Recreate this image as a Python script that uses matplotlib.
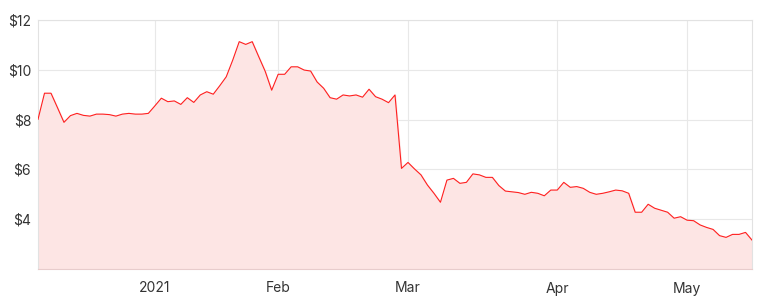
import pandas as pd
import matplotlib
matplotlib.use("Agg")
import matplotlib.pyplot as plt

# ASX trading days, 4 Dec 2020 - 17 May 2021
holidays = ["2020-12-25", "2020-12-28", "2021-01-01", "2021-01-26",
            "2021-04-02", "2021-04-05"]
dates = pd.bdate_range("2020-12-04", "2021-05-17", freq="C", holidays=holidays)

prices = [
    8.01, 9.06, 9.06, 8.48, 7.89, 8.16, 8.25, 8.17, 8.14, 8.22,
    8.22, 8.20, 8.14, 8.22, 8.25, 8.22, 8.22, 8.25, 8.55, 8.86,
    8.72, 8.75, 8.61, 8.88, 8.69, 8.99, 9.12, 9.02, 9.36, 9.72,
    10.39, 11.13, 11.02, 11.13, 10.53, 9.94, 9.18, 9.82, 9.82, 10.12,
    10.12, 9.99, 9.95, 9.51, 9.26, 8.88, 8.82, 8.99, 8.95, 8.99,
    8.90, 9.22, 8.92, 8.82, 8.68, 8.99, 6.04, 6.28, 6.02, 5.78,
    5.37, 5.04, 4.68, 5.57, 5.64, 5.44, 5.48, 5.82, 5.78, 5.68,
    5.68, 5.35, 5.13, 5.10, 5.07, 5.00, 5.08, 5.04, 4.94, 5.17,
    5.17, 5.48, 5.28, 5.31, 5.24, 5.08, 5.00, 5.04, 5.10, 5.17,
    5.14, 5.04, 4.28, 4.28, 4.60, 4.44, 4.36, 4.28, 4.04, 4.10,
    3.96, 3.94, 3.77, 3.67, 3.59, 3.34, 3.27, 3.39, 3.39, 3.47,
    3.16,
]

y_ticks = [4, 6, 8, 10, 12]
month_labels = {1: "2021", 2: "Feb", 3: "Mar", 4: "Apr", 5: "May"}

x = list(range(len(dates)))

# first trading day of each month gets a tick
tick_pos, tick_lab = [], []
for i, d in enumerate(dates):
    if d.month in month_labels and (i == 0 or dates[i - 1].month != d.month):
        tick_pos.append(i)
        tick_lab.append(month_labels[d.month])

plt.rcParams["font.family"] = ["Inter", "DejaVu Sans"]

fig = plt.figure(figsize=(7.62, 2.99), dpi=100)
ax = fig.add_axes([38 / 762, 30 / 299, 714 / 762, 249 / 299])

ax.fill_between(x, prices, 2, color="#fde5e4", zorder=1)
ax.plot(x, prices, color="#ff2020", lw=0.8, zorder=3)

ax.set_xlim(0, len(dates) - 1)
ax.set_ylim(2, 12)
ax.set_yticks(y_ticks)
ax.set_yticklabels([f"${v}" for v in y_ticks])
ax.set_xticks(tick_pos)
ax.set_xticklabels(tick_lab)

ax.grid(True, color="#e8e8e8", lw=0.8, zorder=0)
ax.set_axisbelow(True)
ax.tick_params(length=0, labelsize=10, colors="#333333")
ax.tick_params(axis="x", pad=9)
ax.tick_params(axis="y", pad=5)
for side in ["top", "right", "left"]:
    ax.spines[side].set_color("#e2e2e2")
    ax.spines[side].set_linewidth(0.8)
ax.spines["bottom"].set_color("#e8cccc")
ax.spines["bottom"].set_linewidth(0.8)

fig.savefig("out.png", dpi=100)
